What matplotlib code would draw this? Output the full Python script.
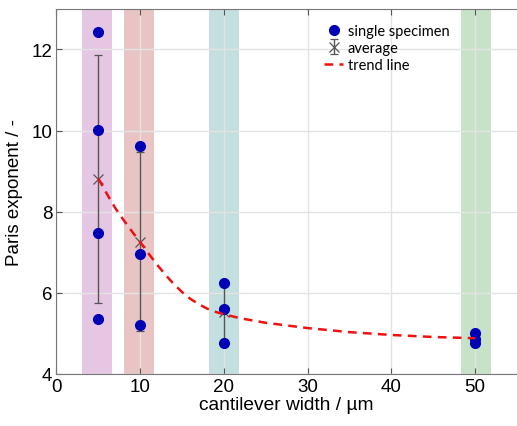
import matplotlib
matplotlib.use('Agg')
import matplotlib.pyplot as plt

# cantilever widths (um) and Paris exponents of single specimens
spec_x = [5, 5, 5, 5, 10, 10, 10, 20, 20, 20, 50, 50, 50]
spec_y = [12.42, 10.02, 7.48, 5.35, 9.62, 6.95, 5.2, 6.25, 5.6, 4.75, 5.0, 4.85, 4.75]

# averages with standard deviation
avg_x = [5, 10, 20, 50]
avg_y = [8.81, 7.26, 5.53, 4.87]
avg_err = [3.05, 2.21, 0.75, 0.13]

# trend line
trend_x = [5, 6, 7, 8, 9, 10, 11, 12, 13, 14, 15, 16, 17, 18, 19, 20, 22, 25, 30, 35, 40, 45, 50]
trend_y = [8.82, 8.45, 8.1, 7.8, 7.52, 7.25, 6.97, 6.7, 6.45, 6.22, 6.02, 5.85, 5.72, 5.61,
           5.53, 5.47, 5.37, 5.26, 5.13, 5.03, 4.96, 4.91, 4.88]

# shaded bands around each width
band_lo = [3.05, 8.05, 18.2, 48.3]
band_hi = [6.65, 11.65, 21.75, 51.85]
band_colors = ['#e6c7e3', '#e9c4c4', '#c4dfe0', '#c7e2c7']

plt.rcParams['font.family'] = ['Liberation Sans', 'DejaVu Sans']

fig = plt.figure(figsize=(5.17, 4.27), dpi=100)
ax = fig.add_axes([0.109, 0.122, 0.891, 0.855])

for lo, hi, c in zip(band_lo, band_hi, band_colors):
    ax.axvspan(lo, hi, color=c, zorder=0, lw=0)

ax.errorbar(avg_x, avg_y, yerr=avg_err, fmt='x', color='#555555', ecolor='#555555',
            elinewidth=1, capsize=3, capthick=1, markersize=7, markeredgewidth=0.9,
            zorder=2, label='average')
ax.plot(spec_x, spec_y, 'o', color='#0000b4', markersize=7, zorder=3,
        label='single specimen')
ax.plot(trend_x, trend_y, '--', color='#ee1111', lw=1.8, dashes=(3.5, 2.5), zorder=4,
        label='trend line')

ax.set_xlim(0, 55)
ax.set_ylim(4, 13)
ax.set_xticks([0, 10, 20, 30, 40, 50])
ax.set_yticks([4, 6, 8, 10, 12])
ax.grid(True, color='#e3e3e3', lw=1, zorder=0.5)
ax.set_axisbelow(True)
ax.tick_params(direction='in', top=True, right=False, labelsize=13.5, length=4,
               color='#555555', pad=3)
for s in ['left', 'bottom', 'top']:
    ax.spines[s].set_color('#777777')
ax.spines['right'].set_visible(False)

ax.set_xlabel('cantilever width / µm', fontsize=13.8, labelpad=1)
ax.set_ylabel('Paris exponent / -', fontsize=13.5, labelpad=6)

handles, labels = ax.get_legend_handles_labels()
order = [labels.index('single specimen'), labels.index('average'), labels.index('trend line')]
ax.legend([handles[i] for i in order], [labels[i] for i in order],
          loc='upper left', bbox_to_anchor=(0.553, 0.995), frameon=False,
          prop={'family': 'Lato', 'size': 10.5}, handlelength=1.3, handletextpad=0.3,
          labelspacing=0.2)

fig.savefig('out.png', dpi=100)
